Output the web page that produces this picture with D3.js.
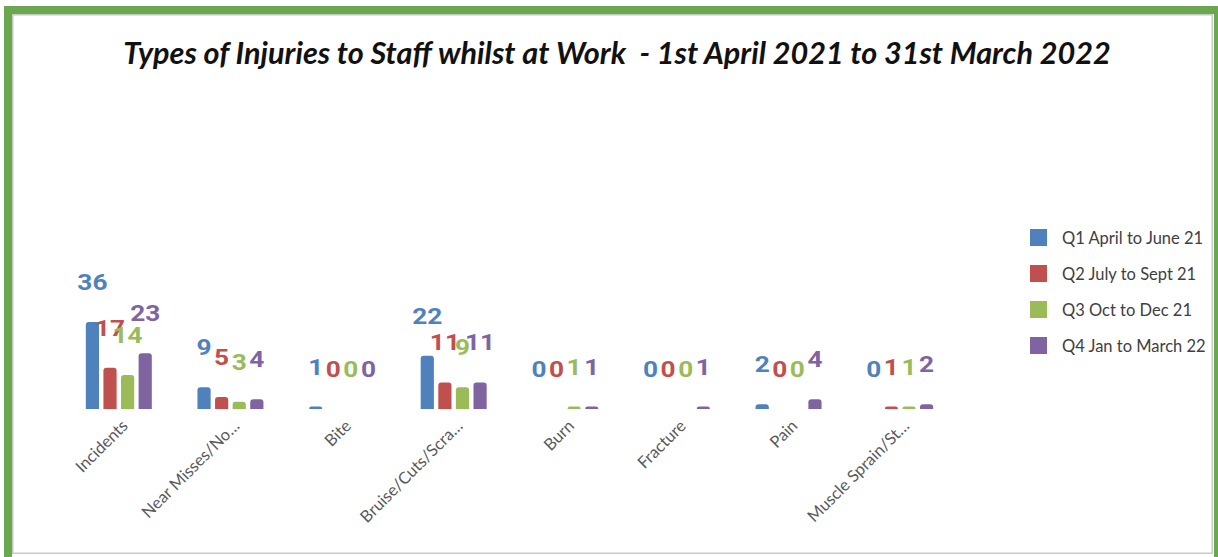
<!DOCTYPE html>
<html>
<head>
<meta charset="utf-8">
<script src="https://cdn.jsdelivr.net/npm/d3@7"></script>
<style>
  html, body { margin: 0; padding: 0; background: #ffffff; }
  svg { display: block; }
</style>
</head>
<body>
<script>
// Injury categories (axis labels as shown, truncated names end with an ellipsis)
const categories = [
  "Incidents",
  "Near Misses/No\u2026",
  "Bite",
  "Bruise/Cuts/Scra\u2026",
  "Burn",
  "Fracture",
  "Pain",
  "Muscle Sprain/St\u2026"
];

// Quarter series
const seriesNames = [
  "Q1 April to June 21",
  "Q2 July to Sept 21",
  "Q3 Oct to Dec 21",
  "Q4 Jan to March 22"
];
const q1Values = [36, 9, 1, 22, 0, 0, 2, 0];
const q2Values = [17, 5, 0, 11, 0, 0, 0, 1];
const q3Values = [14, 3, 0, 9, 1, 0, 0, 1];
const q4Values = [23, 4, 0, 11, 1, 1, 4, 2];

const seriesColors = ["#4f81bd", "#c0504d", "#9bbb59", "#8064a2"];

const titleText = "Types of Injuries to Staff whilst at Work  - 1st April 2021 to 31st March 2022";

const W = 1218, H = 557;
const seriesValues = [q1Values, q2Values, q3Values, q4Values];
const rows = seriesNames.map((name, i) => ({
  name, color: seriesColors[i], values: seriesValues[i]
}));

const svg = d3.select("body").append("svg")
  .attr("width", W).attr("height", H);

// Frame: green outer border with a thin grey inner edge
svg.append("rect")
  .attr("x", 8).attr("y", 10).attr("width", 1210).attr("height", 560)
  .attr("fill", "none").attr("stroke", "#6aa84f").attr("stroke-width", 8);
svg.append("rect")
  .attr("x", 12.75).attr("y", 14.75).attr("width", 1199.5).attr("height", 538.5)
  .attr("fill", "none").attr("stroke", "#c8c8c8").attr("stroke-width", 1.5);

// Title, sized to span the header area
const title = svg.append("text")
  .attr("x", 617).attr("y", 64)
  .attr("text-anchor", "middle")
  .attr("font-family", "Lato, 'Open Sans', sans-serif")
  .attr("font-style", "italic").attr("font-weight", 700)
  .attr("font-size", 24)
  .attr("fill", "#111111")
  .attr("xml:space", "preserve")
  .style("white-space", "pre")
  .text(titleText);
const tw = title.node().getComputedTextLength();
title.attr("font-size", 24 * 988 / tw);

// Scales
const baseY = 409;
const x0 = d3.scaleBand().domain(categories).range([63, 956]).padding(0);
const x1 = d3.scaleBand().domain(seriesNames).range([-33, 33]).paddingInner(0.25).paddingOuter(0);
const y = d3.scaleLinear().domain([0, 40]).range([baseY, baseY - 96.8]);

// Bar path with rounded top corners
function barPath(x, w, top, bottom) {
  const h = bottom - top;
  const r = Math.min(3, h, w / 2);
  return `M${x},${bottom}V${top + r}Q${x},${top} ${x + r},${top}H${x + w - r}Q${x + w},${top} ${x + w},${top + r}V${bottom}Z`;
}

const plot = svg.append("g");

rows.forEach(s => {
  const g = plot.append("g");
  categories.forEach((c, i) => {
    const v = s.values[i];
    if (v <= 0) return;
    const bx = x0(c) + x0.bandwidth() / 2 + x1(s.name);
    g.append("path")
      .attr("d", barPath(bx, x1.bandwidth(), y(v), y(0)))
      .attr("fill", s.color);
  });
});

// Value labels (wide, bold digits centred above each bar)
rows.forEach(s => {
  categories.forEach((c, i) => {
    const v = s.values[i];
    const cx = x0(c) + x0.bandwidth() / 2 + x1(s.name) + x1.bandwidth() / 2;
    plot.append("text")
      .attr("transform", `translate(${cx},${y(v) - 32}) scale(1.22,1)`)
      .attr("text-anchor", "middle")
      .attr("font-family", "Roboto, sans-serif")
      .attr("font-weight", 700)
      .attr("font-size", 21.5)
      .attr("fill", s.color)
      .text(v);
  });
});

// Category axis labels, rotated
const xAxis = svg.append("g");
categories.forEach(c => {
  const cx = x0(c) + x0.bandwidth() / 2;
  xAxis.append("text")
    .attr("transform", `translate(${cx + 10},${baseY + 18}) rotate(-45)`)
    .attr("text-anchor", "end")
    .attr("font-family", "Lato, 'Open Sans', sans-serif")
    .attr("font-size", 16.5)
    .attr("fill", "#595959")
    .text(c);
});

// Legend
const legend = svg.append("g").attr("transform", "translate(1030,229)");
rows.forEach((s, i) => {
  const g = legend.append("g").attr("transform", `translate(0,${i * 36})`);
  g.append("rect").attr("width", 17).attr("height", 17).attr("fill", s.color);
  g.append("text")
    .attr("x", 32).attr("y", 9)
    .attr("dominant-baseline", "central")
    .attr("font-family", "Lato, 'Open Sans', sans-serif")
    .attr("font-size", 16.5)
    .attr("fill", "#404040")
    .text(s.name);
});
</script>
</body>
</html>
